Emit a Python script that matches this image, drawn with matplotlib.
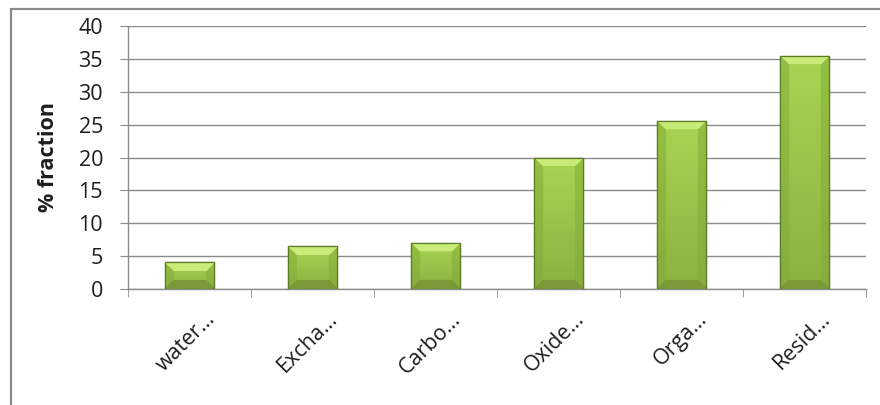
import numpy as np
import matplotlib
matplotlib.use("Agg")
import matplotlib.pyplot as plt
from matplotlib.colors import to_rgb
from matplotlib.patches import Rectangle
from matplotlib.transforms import ScaledTranslation

plt.rcParams['font.family'] = ['Open Sans', 'DejaVu Sans']

categories = ["water…", "Excha…", "Carbo…", "Oxide…", "Orga…", "Resid…"]
values = [4.1, 6.5, 7.0, 20.0, 25.6, 35.5]
yticks = [0, 5, 10, 15, 20, 25, 30, 35, 40]

GRID = "#8c8c8c"
EDGE = "#5d7a26"
TXT = "#1e1e1e"
FS = 15.5


def bevel_image(nx, ny, b=9):
    """RGB array for one bevelled bar, nx by ny pixels."""
    top = np.array(to_rgb("#c9ec78"))
    side = np.array(to_rgb("#94bf42"))
    bot = np.array(to_rgb("#7a9a37"))
    body_top = np.array(to_rgb("#a9d453"))
    body_bot = np.array(to_rgb("#8bb13f"))
    img = np.zeros((ny, nx, 3))
    for i in range(ny):
        t = i / max(ny - 1, 1)
        body = body_top * (1 - t) + body_bot * t
        sd = side * (1 - 0.5 * t) + bot * 0.5 * t
        for j in range(nx):
            d = {"t": i, "b": ny - 1 - i, "l": j, "r": nx - 1 - j}
            k = min(d, key=d.get)
            if d[k] >= b:
                img[i, j] = body
            elif k == "t":
                img[i, j] = top
            elif k == "b":
                img[i, j] = bot
            else:
                img[i, j] = sd
    return img


fig = plt.figure(figsize=(8.8, 4.05), dpi=100)
ax = fig.add_axes([128 / 880, 1 - 289 / 405, 738 / 880, 263 / 405])

# outer chart frame
fig.patches.append(Rectangle((11 / 880, -0.1), 1.2, 1 - 9 / 405 + 0.1,
                             transform=fig.transFigure, fill=False,
                             edgecolor="#8a8a8a", lw=1.6))

x = np.arange(len(categories))
bars = ax.bar(x, values, width=0.4, color="#9cc949", edgecolor=EDGE,
              lw=0.9, zorder=3)
ax.set_xlim(-0.5, len(categories) - 0.5)
ax.set_ylim(0, 40)

for rect in bars:
    x0, w, h = rect.get_x(), rect.get_width(), rect.get_height()
    p0 = ax.transData.transform((x0, 0))
    p1 = ax.transData.transform((x0 + w, h))
    nx, ny = int(round(p1[0] - p0[0])), int(round(p1[1] - p0[1]))
    im = ax.imshow(bevel_image(nx, ny), extent=(x0, x0 + w, 0, h),
                   aspect="auto", interpolation="bilinear", zorder=3.5)
    im.set_clip_path(rect)
    ax.bar(rect.get_x() + w / 2, h, width=w, fill=False, edgecolor=EDGE,
           lw=0.9, zorder=4)
ax.set_xlim(-0.5, len(categories) - 0.5)
ax.set_ylim(0, 40)

ax.set_yticks(yticks)
ax.yaxis.grid(True, color=GRID, lw=1.0, zorder=0)
ax.set_axisbelow(True)
for s in ["top", "right"]:
    ax.spines[s].set_visible(False)
for s in ["left", "bottom"]:
    ax.spines[s].set_color(GRID)
    ax.spines[s].set_linewidth(1.0)

ax.tick_params(axis="y", length=6, color=GRID, labelsize=FS, pad=12,
               labelcolor=TXT)
ax.set_xticks(np.arange(-0.5, len(categories)), minor=True)
ax.set_xticks(x)
ax.set_xticklabels(categories, rotation=45, ha="right",
                   rotation_mode="anchor", fontsize=FS, color=TXT)
ax.tick_params(axis="x", which="major", length=0, pad=14)
ax.tick_params(axis="x", which="minor", length=6, color=GRID)
for lab in ax.get_xticklabels():
    lab.set_transform(lab.get_transform() +
                      ScaledTranslation(15 / 100, 0, fig.dpi_scale_trans))

ax.set_ylabel("% fraction", fontsize=FS, fontweight="bold", color=TXT,
              labelpad=14)

fig.savefig("out.png", dpi=100, facecolor="white")
